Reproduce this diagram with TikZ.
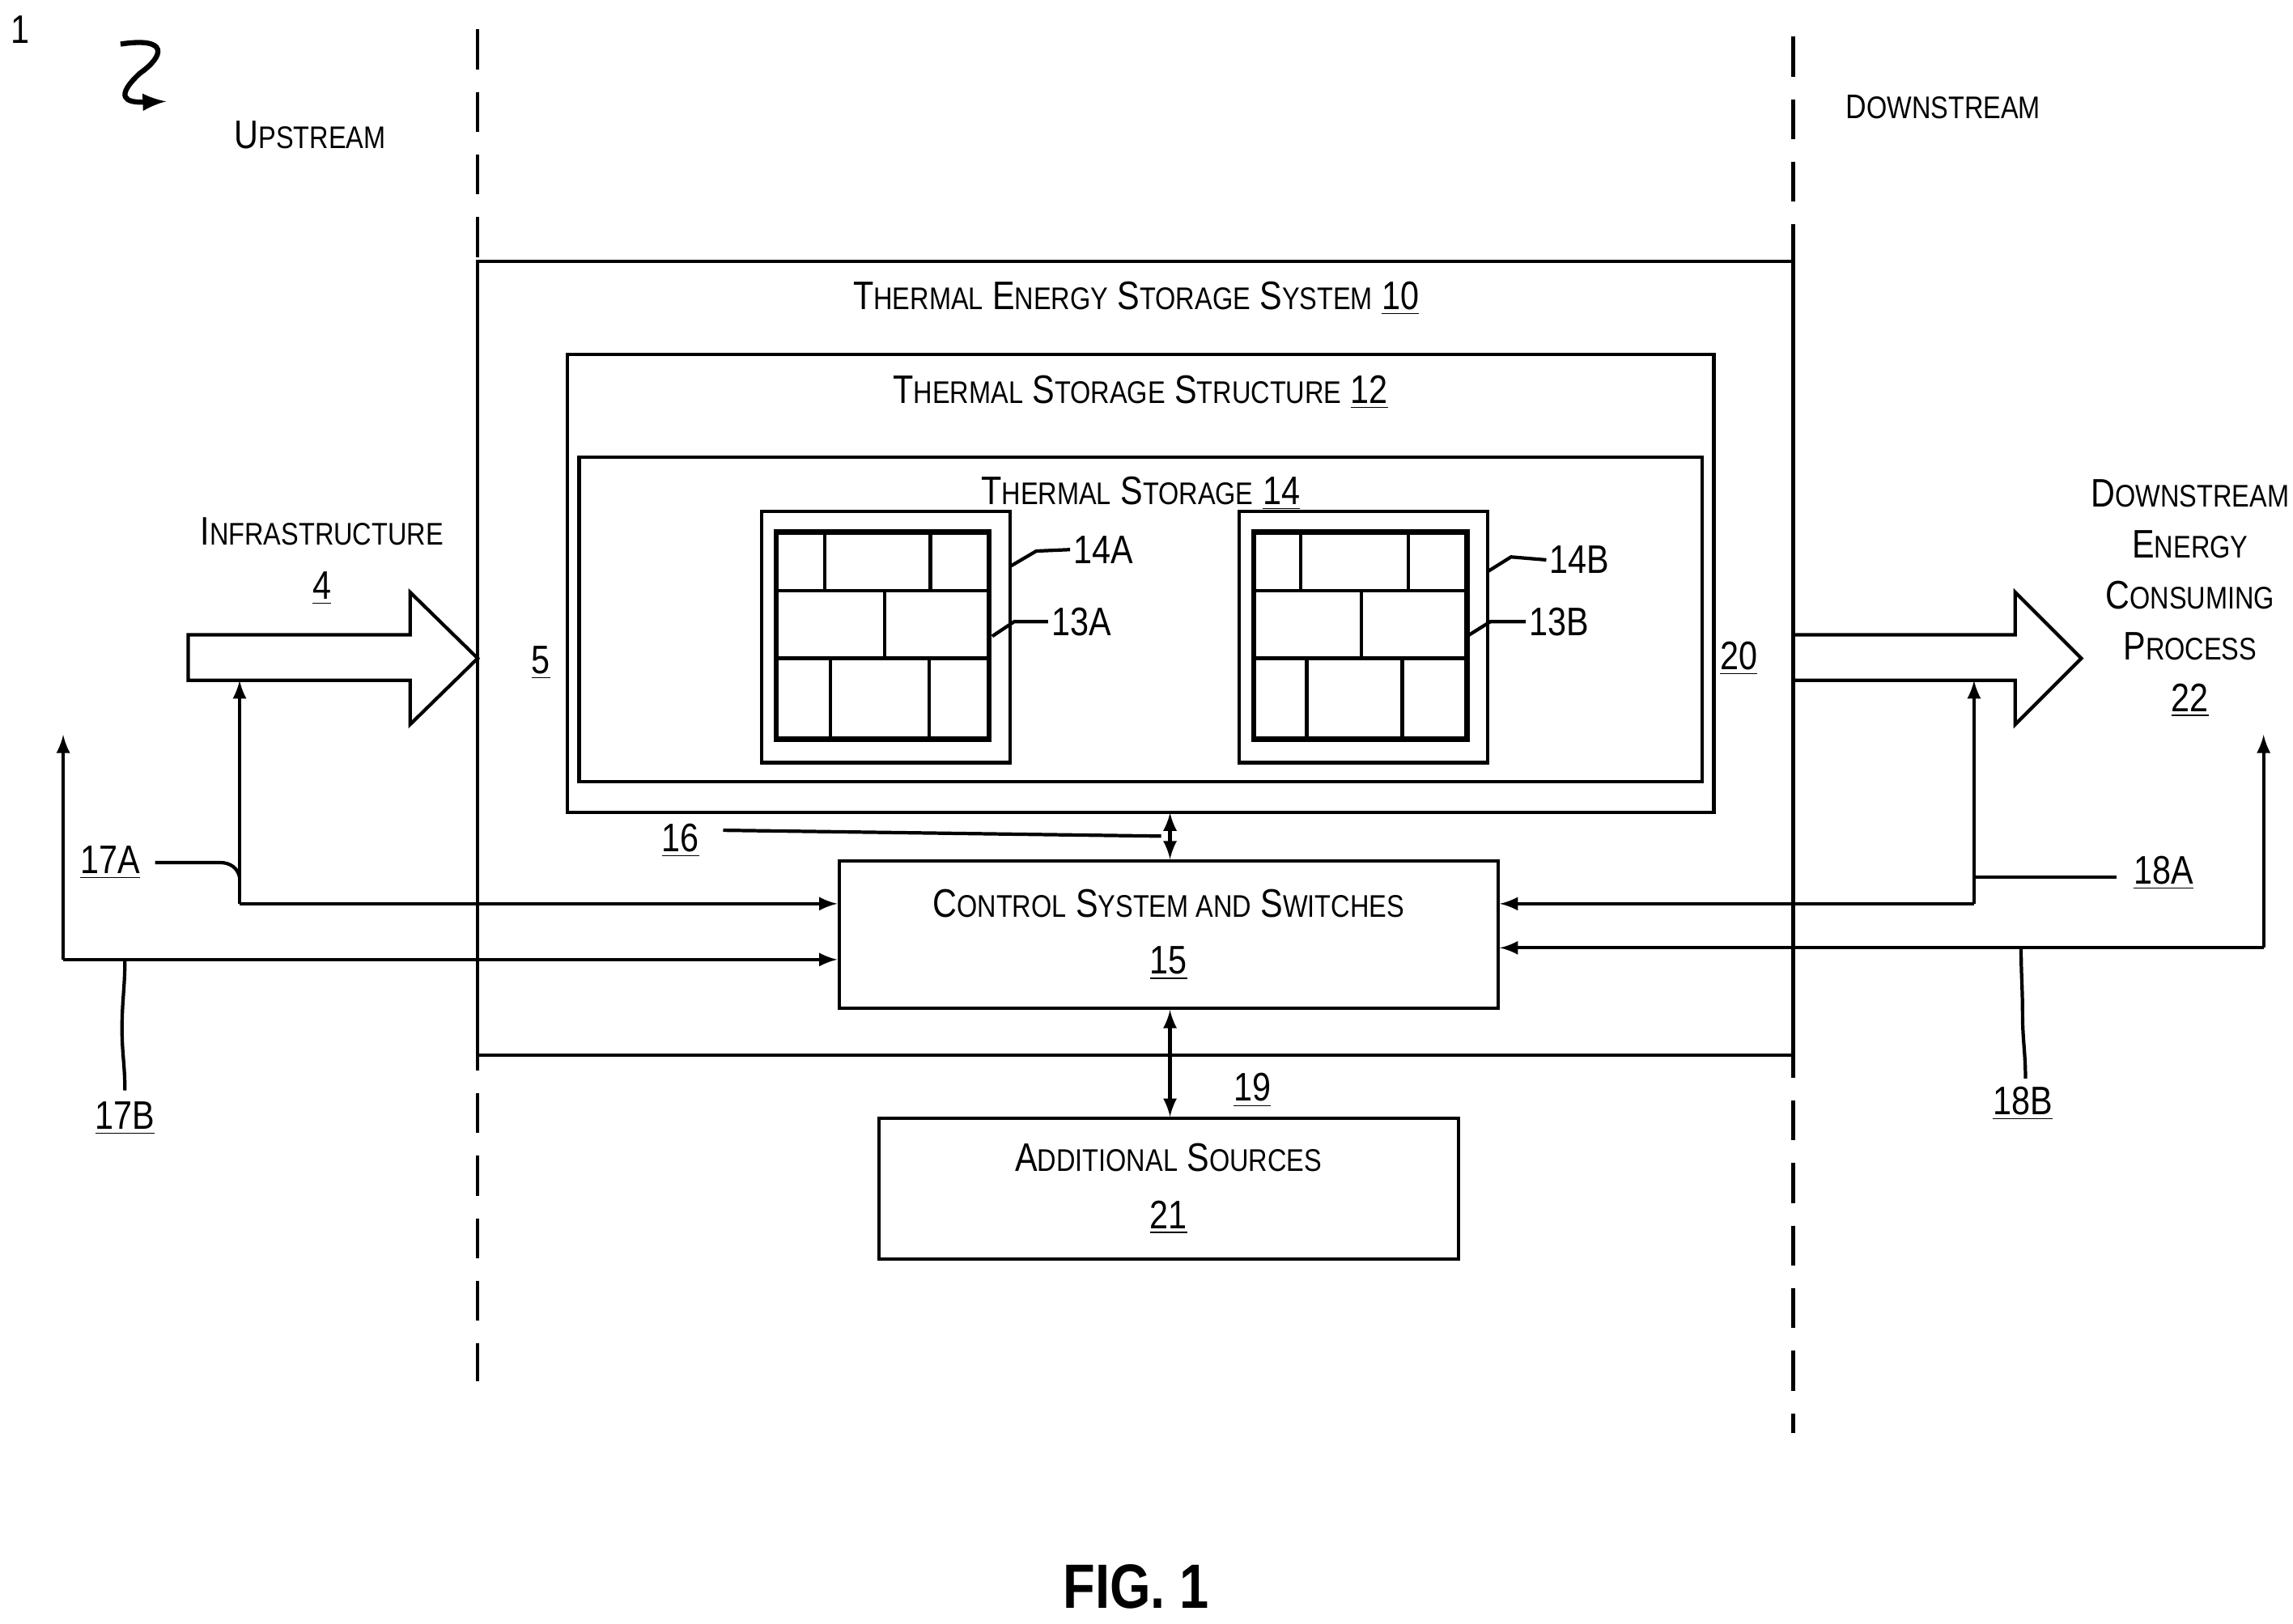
\documentclass[tikz,border=0pt]{standalone}
\usepackage{fontspec}
\setmainfont[FakeStretch=0.84]{Liberation Sans}
\usetikzlibrary{arrows,calc,shapes}
\newcommand{\sm}[1]{{\fontsize{11}{13}\selectfont #1}}
\tikzset{
  lbl/.style={font=\fontsize{14}{17}\selectfont,inner sep=1pt},
  box/.style={draw,line width=1.2pt,align=center,font=\fontsize{14}{20}\selectfont},
  wire/.style={line width=1.2pt},
  arr/.style={wire,-latex},
  dbl/.style={wire,latex-latex},
}
\begin{document}
\begin{tikzpicture}[x=0.01816cm,y=-0.01816cm]
\useasboundingbox (0,0) rectangle (1560,1105);
% boundaries
\draw[wire,dash pattern=on 14pt off 8pt] (325,20) -- (325,940);
\draw[wire,dash pattern=on 14pt off 8pt] (1220,25) -- (1220,975);
\node[lbl] (one) at (14,20) {1};
\draw[line width=1.8pt,-latex] (82,30) .. controls (115,25) and (112,38) .. (95,50) .. controls (78,66) and (85,70) .. (113,69);
\node[lbl] (up) at (211,92) {U\sm{PSTREAM}};
\node[lbl] (down) at (1322,73) {\fontsize{12}{14}\selectfont D\sm{OWNSTREAM}};

% containers
\draw[wire] (325,178) rectangle (1220,718);
\node[lbl] (tes) at (773,203) {T\sm{HERMAL} E\sm{NERGY} S\sm{TORAGE} S\sm{YSTEM} \underline{10}};
\draw[wire] (386,241) rectangle (1166,553);
\node[lbl] (tss) at (776,267) {T\sm{HERMAL} S\sm{TORAGE} S\sm{TRUCTURE} \underline{12}};
\draw[wire] (394,311) rectangle (1158,532);
\node[lbl] (ts) at (776,336) {T\sm{HERMAL} S\sm{TORAGE} \underline{14}};

% storage units
\foreach \ox/\a/\b/\c/\d/\e in {0/561/633/602/565/632, 325/885/958/926/889/954}{
  \draw[wire] (518+\ox,348) rectangle (688+\ox-1,519);
  \draw[line width=1.8pt] (528+\ox,362) rectangle (675+\ox-2,503);
  \draw[wire] (528+\ox,402) -- (675+\ox-2,402);
  \draw[wire] (528+\ox,448) -- (675+\ox-2,448);
  \draw[wire] (\a,362) -- (\a,402);
  \draw[wire] (\b,362) -- (\b,402);
  \draw[wire] (\c,402) -- (\c,448);
  \draw[wire] (\d,448) -- (\d,503);
  \draw[wire] (\e,448) -- (\e,503);
}
\node[lbl,anchor=west] (l14a) at (728,374) {14A};
\node[lbl,anchor=west] (l13a) at (713,423) {13A};
\node[lbl,anchor=west] (l14b) at (1052,381) {14B};
\node[lbl,anchor=west] (l13b) at (1038,423) {13B};
\draw[wire] (688,385) -- (705,375) -- (l14a.west);
\draw[wire] (675,433) -- (690,423) -- (l13a.west);
\draw[wire] (1012,389) -- (1028,379) -- (l14b.west);
\draw[wire] (998,433) -- (1014,423) -- (l13b.west);
\node[lbl] (p5) at (368,451) {\underline{5}};
\node[lbl] (p20) at (1183,448) {\underline{20}};

% flows
\draw[wire] (128,432) -- (279,432) -- (279,403) -- (325,448) -- (279,493) -- (279,463) -- (128,463) -- cycle;
\draw[wire] (1220,432) -- (1371,432) -- (1371,403) -- (1416,448) -- (1371,493) -- (1371,463) -- (1220,463);
\node[lbl,align=center] (infra) at (219,382) {I\sm{NFRASTRUCTURE}\\[2pt]\underline{4}};
\node[lbl,align=center] (proc) at (1490,407) {D\sm{OWNSTREAM}\\[1pt]E\sm{NERGY}\\[1pt]C\sm{ONSUMING}\\[1pt]P\sm{ROCESS}\\[1pt]\underline{22}};

% control
\node[box] (ctrl) at (795,636) [minimum width=8.14cm,minimum height=1.82cm] {C\sm{ONTROL} S\sm{YSTEM AND} S\sm{WITCHES}\\\underline{15}};
\node[box] (add) at (795,809) [minimum width=7.16cm,minimum height=1.74cm] {A\sm{DDITIONAL} S\sm{OURCES}\\\underline{21}};
\coordinate (top16) at (796,553);
\coordinate (infb) at (163,463);
\coordinate (outb) at (1343,463);
\draw[dbl] (top16) -- (top16 |- ctrl.north);
\draw[dbl] (ctrl.south -| top16) -- (add.north -| top16);
\node[lbl] (n16) at (463,572) {\underline{16}};
\draw[wire] (492,565) -- (790,569);
\node[lbl] (n19) at (852,742) {\underline{19}};

\draw[arr] (163,615) -- (infb);
\draw[arr] (163,615) -- (ctrl.west |- 0,615);
\draw[arr] (43,653) -- (43,500);
\draw[arr] (43,653) -- (ctrl.west |- 0,653);
\draw[arr] (1343,615) -- (outb);
\draw[arr] (1343,615) -- (ctrl.east |- 0,615);
\draw[arr] (1540,645) -- (1540,500);
\draw[arr] (1540,645) -- (ctrl.east |- 0,645);

\node[lbl] (n17a) at (75,587) {\underline{17A}};
\draw[wire] (n17a.east) ++(8,0) -- (150,587) to[out=0,in=100] (163,597);
\node[lbl] (n17b) at (85,761) {\underline{17B}};
\draw[wire] (85,742) to[out=90,in=-90] (83,700) to[out=90,in=-90] (85,653);
\node[lbl] (n18a) at (1472,594) {\underline{18A}};
\draw[wire] (1440,597) -- (1343,597);
\node[lbl] (n18b) at (1376,751) {\underline{18B}};
\draw[wire] (1378,734) to[out=90,in=-90] (1376,690) to[out=90,in=-90] (1375,645);

\node[font=\bfseries\fontsize{22}{26}\selectfont] (fig) at (773,1080) {FIG. 1};
\end{tikzpicture}
\end{document}
